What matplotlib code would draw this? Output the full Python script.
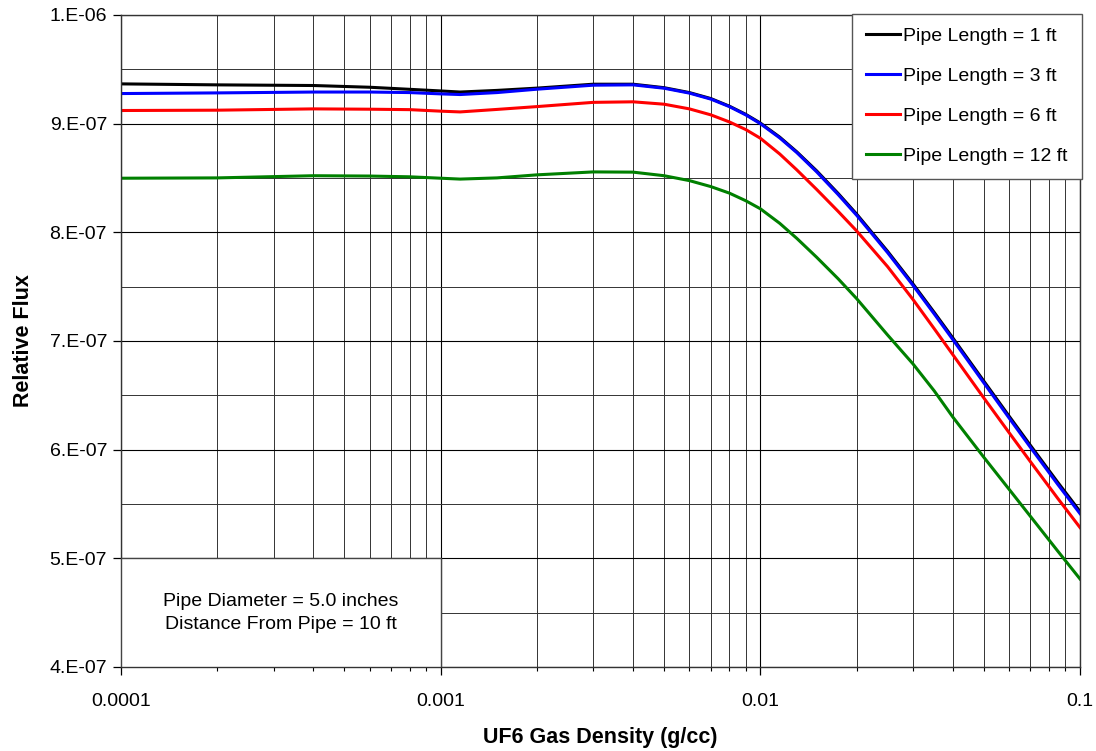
import matplotlib
matplotlib.use("Agg")
import matplotlib.pyplot as plt
from matplotlib.ticker import FixedLocator, FuncFormatter, LogLocator, NullFormatter
from matplotlib.patches import Rectangle

plt.rcParams['font.family'] = ['Liberation Sans', 'DejaVu Sans']

# UF6 gas density (g/cc)
density = [1e-4, 2e-4, 4e-4, 6e-4, 8e-4, 1e-3, 1.15e-3, 1.5e-3, 2e-3, 3e-3, 4e-3, 5e-3,
           6e-3, 7e-3, 8e-3, 9e-3, 1e-2, 1.15e-2, 1.3e-2, 1.5e-2, 1.75e-2, 2e-2, 2.5e-2,
           3e-2, 3.5e-2, 4e-2, 5e-2, 6e-2, 7e-2, 8.5e-2, 0.1]

# relative flux, units of 1e-7
flux_1ft = [9.365, 9.356, 9.35, 9.334, 9.315, 9.30, 9.29, 9.305, 9.326, 9.362, 9.362, 9.33,
            9.285, 9.23, 9.16, 9.085, 9.005, 8.875, 8.74, 8.565, 8.358, 8.168, 7.825,
            7.526, 7.262, 7.028, 6.631, 6.308, 6.038, 5.703, 5.431]
flux_3ft = [9.276, 9.282, 9.29, 9.29, 9.285, 9.273, 9.267, 9.285, 9.316, 9.353, 9.356, 9.325,
            9.28, 9.225, 9.156, 9.08, 8.999, 8.868, 8.733, 8.556, 8.348, 8.157, 7.813,
            7.513, 7.248, 7.013, 6.615, 6.291, 6.02, 5.684, 5.411]
flux_6ft = [9.12, 9.123, 9.135, 9.132, 9.128, 9.114, 9.107, 9.13, 9.156, 9.195, 9.20, 9.178,
            9.135, 9.08, 9.015, 8.945, 8.865, 8.72, 8.574, 8.394, 8.193, 8.013, 7.684,
            7.383, 7.112, 6.874, 6.476, 6.156, 5.888, 5.555, 5.283]
flux_12ft = [8.497, 8.50, 8.52, 8.517, 8.51, 8.497, 8.489, 8.50, 8.528, 8.555, 8.553, 8.52,
             8.475, 8.42, 8.36, 8.29, 8.216, 8.082, 7.944, 7.77, 7.573, 7.39, 7.055,
             6.79, 6.54, 6.30, 5.93, 5.635, 5.385, 5.07, 4.81]

series = [("Pipe Length = 1 ft", flux_1ft, "black"),
          ("Pipe Length = 3 ft", flux_3ft, "#0000FF"),
          ("Pipe Length = 6 ft", flux_6ft, "#FF0000"),
          ("Pipe Length = 12 ft", flux_12ft, "#008000")]

y_ticks = [4e-7, 5e-7, 6e-7, 7e-7, 8e-7, 9e-7, 1e-6]
y_minor = [4.5e-7, 5.5e-7, 6.5e-7, 7.5e-7, 8.5e-7, 9.5e-7]
x_ticks = [1e-4, 1e-3, 1e-2, 1e-1]
x_labels = ["0.0001", "0.001", "0.01", "0.1"]

fig = plt.figure(figsize=(10.96, 7.51), dpi=100)
ax = fig.add_axes([0.1104, 0.1119, 0.875, 0.8683])

for label, vals, col in series:
    ax.plot(density, [v * 1e-7 for v in vals], color=col, lw=2.2, label=label)

ax.set_xscale('log')
ax.set_xlim(1e-4, 0.1)
ax.set_ylim(4e-7, 1e-6)

ax.set_xticks(x_ticks)
ax.set_xticklabels(x_labels)
ax.xaxis.set_minor_locator(LogLocator(base=10, subs=range(2, 10)))
ax.xaxis.set_minor_formatter(NullFormatter())
ax.yaxis.set_major_locator(FixedLocator(y_ticks))
ax.yaxis.set_minor_locator(FixedLocator(y_minor))


def sci(v, pos):
    m, e = f"{v:.0E}".split("E")
    return f"{m}.E{e[0]}{int(e[1:]):02d}"


ax.yaxis.set_major_formatter(FuncFormatter(sci))

ax.grid(which='major', color='black', lw=0.8)
ax.grid(which='minor', color='#333333', lw=0.7)
ax.tick_params(which='major', direction='out', length=6, width=0.9, labelsize=14, colors='black')
ax.tick_params(axis='x', which='major', pad=13)
ax.tick_params(axis='y', which='major', pad=4)
ax.tick_params(which='minor', direction='out', length=3, width=0.8)
ax.tick_params(axis='y', which='minor', length=0)
for s in ax.spines.values():
    s.set_color('#333333')
    s.set_linewidth(1.0)

ax.set_xlabel("UF6 Gas Density (g/cc)", fontsize=15.5, fontweight='bold', labelpad=12)
ax.set_ylabel("Relative Flux", fontsize=15.5, fontweight='bold', labelpad=11)

leg = ax.legend(loc='upper right', bbox_to_anchor=(1.002, 1.002), fontsize=14,
                fancybox=False, framealpha=1, edgecolor='#555555', handlelength=1.7,
                handletextpad=0.2, labelspacing=1.15, borderpad=0.72, borderaxespad=0)
leg.get_frame().set_linewidth(1.0)

ax.add_patch(Rectangle((0, 0), 0.3337, 0.167, transform=ax.transAxes, facecolor='white',
                       edgecolor='#444444', lw=1.0, zorder=5))
ax.text(0.1668, 0.083, "Pipe Diameter = 5.0 inches\nDistance From Pipe = 10 ft",
        transform=ax.transAxes, ha='center', va='center', fontsize=14,
        linespacing=1.45, zorder=6)

fig.savefig("out.png", dpi=100)
